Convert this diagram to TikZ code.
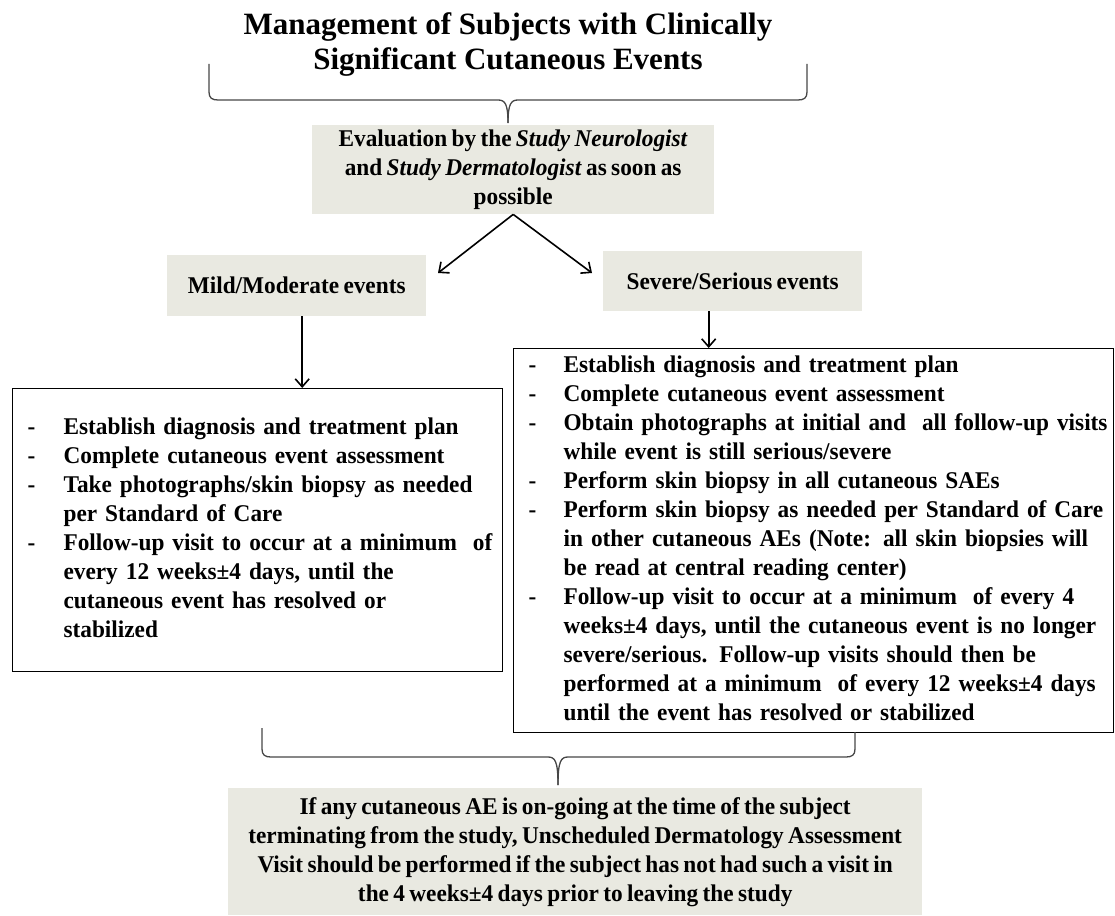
\documentclass[tikz,border=0pt]{standalone}
\usepackage{fontspec}
\setmainfont{Liberation Serif}[FakeStretch=0.97, WordSpace=0.75]
\newfontfamily\titlefam{Liberation Serif}
\usetikzlibrary{arrows.meta}
\definecolor{boxgray}{RGB}{233,233,225}
\definecolor{bracecol}{RGB}{70,70,70}
\newcommand{\mybody}{\fontsize{24}{29}\selectfont\bfseries}
\newcommand{\mytitle}{\titlefam\fontsize{31}{35}\selectfont\bfseries}
\begin{document}
\begin{tikzpicture}[x=1pt,y=-1pt,
  graybox/.style={fill=boxgray, draw=none, inner sep=0pt, align=center, font=\mybody, anchor=north west},
  listbox/.style={draw=black, line width=1.2pt, inner ysep=0pt, anchor=north west, align=left, font=\mybody},
  arr/.style={-{Straight Barb[length=8pt,width=14pt]}, line width=1.6pt},
  brace/.style={draw=bracecol, line width=1.3pt}]
\useasboundingbox (0,0) rectangle (1115,915);

\node[font=\mytitle, align=center] (title) at (508,45)
  {Management of Subjects with Clinically\\Significant Cutaneous Events};

% top brace
\coordinate (tbl) at (209,64);
\coordinate (tbr) at (807,64);
\coordinate (tbt) at (508,123);
\draw[brace] (tbl) -- (209,92) .. controls (209,98) and (212,100) .. (218,100) -- (498,100) .. controls (505,100) and (508,104) .. (tbt);
\draw[brace] (tbr) -- (807,92) .. controls (807,98) and (804,100) .. (798,100) -- (518,100) .. controls (511,100) and (508,104) .. (tbt);

\node[graybox, minimum width=402pt, minimum height=89pt] (eval) at (312,125)
  {Evaluation by the \textit{Study Neurologist}\\and \textit{Study Dermatologist} as soon as\\possible};

\coordinate (ml) at (438,273);
\coordinate (mr) at (592,273);
\draw[arr] (eval.south) -- (ml);
\draw[arr] (eval.south) -- (mr);

\node[graybox, minimum width=259pt, minimum height=61pt] (mild) at (167,255) {Mild/Moderate events};
\node[graybox, minimum width=259pt, minimum height=60pt] (sev) at (603,251) {Severe/Serious events};

\node[listbox, minimum width=490pt, minimum height=283pt, text width=460pt, inner xsep=15pt] (lbox) at (12,388)
{\begin{tabular}{@{}p{36pt}@{}l@{}}
-&Establish diagnosis and treatment plan\\
-&Complete cutaneous event assessment\\
-&Take photographs/skin biopsy as needed\\
 &per Standard of Care\\
-&Follow-up visit to occur at a minimum\ \ of\\
 &every 12 weeks±4 days, until the\\
 &cutaneous event has resolved or\\
 &stabilized
\end{tabular}};

\node[listbox, minimum width=600pt, minimum height=384pt, text width=570pt, inner xsep=15pt] (rbox) at (513,348)
{\begin{tabular}{@{}p{35pt}@{}l@{}}
-&Establish diagnosis and treatment plan\\
-&Complete cutaneous event assessment\\
-&Obtain photographs at initial and\ \ all follow-up visits\\
 &while event is still serious/severe\\
-&Perform skin biopsy in all cutaneous SAEs\\
-&Perform skin biopsy as needed per Standard of Care\\
 &in other cutaneous AEs (Note: all skin biopsies will\\
 &be read at central reading center)\\
-&Follow-up visit to occur at a minimum\ \ of every 4\\
 &weeks±4 days, until the cutaneous event is no longer\\
 &severe/serious. Follow-up visits should then be\\
 &performed at a minimum\ \ of every 12 weeks±4 days\\
 &until the event has resolved or stabilized
\end{tabular}};

\draw[arr] ([xshift=5.5pt]mild.south) -- ([xshift=5.5pt]mild.south |- lbox.north);
\draw[arr] ([xshift=-24pt]sev.south) -- ([xshift=-24pt]sev.south |- rbox.north);

% bottom brace
\coordinate (bbl) at (262,728);
\coordinate (bbr) at (855,732);
\coordinate (bbt) at (558,785);
\draw[brace] (bbl) -- (262,749) .. controls (262,755) and (265,757) .. (271,757) -- (548,757) .. controls (555,757) and (558,761) .. (bbt);
\draw[brace] (bbr) -- (855,749) .. controls (855,755) and (852,757) .. (846,757) -- (568,757) .. controls (561,757) and (558,761) .. (bbt);

\node[graybox, minimum width=694pt, minimum height=127pt] (final) at (228,788)
  {If any cutaneous AE is on-going at the time of the subject\\
   terminating from the study, Unscheduled Dermatology Assessment\\
   Visit should be performed if the subject has not had such a visit in\\
   the 4 weeks±4 days prior to leaving the study};
\end{tikzpicture}
\end{document}
